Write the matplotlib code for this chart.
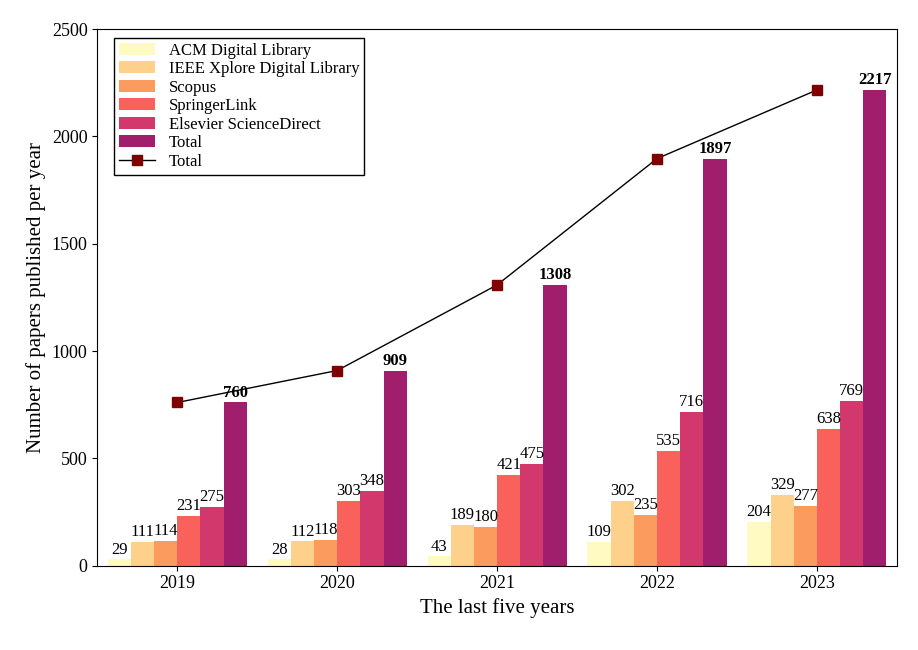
import matplotlib
matplotlib.use("Agg")
import matplotlib.pyplot as plt
import numpy as np

plt.rcParams['font.family'] = ['Liberation Serif', 'DejaVu Serif']

years = ['2019', '2020', '2021', '2022', '2023']
series_names = ['ACM Digital Library', 'IEEE Xplore Digital Library', 'Scopus',
                'SpringerLink', 'Elsevier ScienceDirect', 'Total']
acm = [29, 28, 43, 109, 204]
ieee = [111, 112, 189, 302, 329]
scopus = [114, 118, 180, 235, 277]
springer = [231, 303, 421, 535, 638]
elsevier = [275, 348, 475, 716, 769]
total = [760, 909, 1308, 1897, 2217]
colors = ['#FFFAC2', '#FDD08C', '#FB9B5E', '#F8625A', '#D2386B', '#A01E6C']

series = [acm, ieee, scopus, springer, elsevier, total]
fig, ax = plt.subplots(figsize=(9.18, 6.5), dpi=100)
fig.subplots_adjust(left=0.106, right=0.977, top=0.955, bottom=0.13)
x = np.arange(len(years))
w = 0.145
handles = []
for i, (vals, name, c) in enumerate(zip(series, series_names, colors)):
    pos = x + (i - 2.5) * w
    h = ax.bar(pos, vals, width=w, color=c, label=name)
    handles.append(h)
    for p, v in zip(pos, vals):
        ax.text(p, v + 8, str(v), ha='center', va='bottom', fontsize=12,
                fontweight='bold' if i == 5 else 'normal')
ln, = ax.plot(x, total, color='black', lw=1, marker='s', markersize=7,
              markerfacecolor='#7F0000', markeredgecolor='#7F0000', label='Total')
handles.append(ln)
ax.set_xlim(-0.5, 4.5)
ax.set_ylim(0, 2500)
ax.set_xticks(x)
ax.set_xticklabels(years)
ax.set_yticks(range(0, 2501, 500))
ax.tick_params(labelsize=13)
ax.set_xlabel('The last five years', fontsize=15)
ax.set_ylabel('Number of papers published per year', fontsize=15)
ax.legend(handles=handles, loc='upper left', bbox_to_anchor=(0.01, 1.0), fontsize=12,
          frameon=True, fancybox=False, edgecolor='black', framealpha=1,
          borderpad=0.3, labelspacing=0.15, handlelength=2.2)
fig.savefig('out.png')
